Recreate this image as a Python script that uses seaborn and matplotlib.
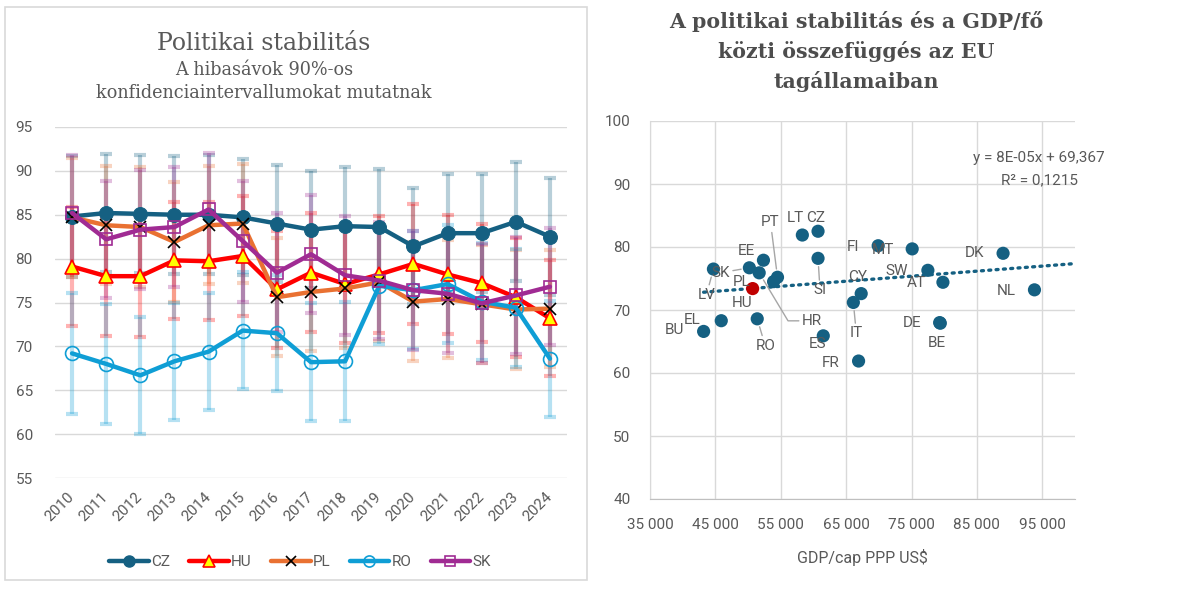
import numpy as np
import pandas as pd
import matplotlib
matplotlib.use("Agg")
import matplotlib.pyplot as plt
import seaborn as sns
from matplotlib.patches import Rectangle
from matplotlib.lines import Line2D

sns.set_style("white")
plt.rcParams['font.family'] = ['Roboto', 'DejaVu Sans']

GRAY = '#595959'
GRID = '#D9D9D9'

# --- left chart: political stability, 5 countries ---
years = list(range(2010, 2025))
cz = [84.8, 85.2, 85.1, 85.0, 85.0, 84.7, 84.0, 83.3, 83.7, 83.6, 81.4, 82.9, 82.9, 84.2, 82.5]
hu = [79.1, 78.0, 78.0, 79.8, 79.7, 80.3, 76.5, 78.4, 77.1, 78.2, 79.4, 78.2, 77.2, 75.6, 73.2]
pl = [84.7, 83.8, 83.6, 81.9, 83.8, 84.0, 75.6, 76.2, 76.6, 77.3, 75.1, 75.4, 74.8, 74.2, 74.3]
ro = [69.2, 68.0, 66.7, 68.3, 69.4, 71.8, 71.5, 68.2, 68.3, 76.9, 76.4, 77.1, 75.1, 74.4, 68.6]
sk = [85.2, 82.2, 83.3, 83.6, 85.6, 82.0, 78.4, 80.5, 78.1, 77.5, 76.4, 76.0, 74.9, 75.8, 76.8]

# 90% confidence half-widths
cz_err = [6.9, 6.7, 6.7, 6.7, 6.8, 6.6, 6.7, 6.7, 6.7, 6.6, 6.6, 6.7, 6.7, 6.8, 6.7]
hu_err = [6.8, 6.8, 6.9, 6.7, 6.7, 6.8, 6.7, 6.8, 6.7, 6.7, 6.8, 6.8, 6.7, 6.8, 6.6]
pl_err = [6.8, 6.7, 6.8, 6.8, 6.7, 6.8, 6.7, 6.7, 6.8, 6.7, 6.8, 6.7, 6.7, 6.8, 6.7]
ro_err = [6.9, 6.8, 6.7, 6.7, 6.7, 6.7, 6.6, 6.7, 6.8, 6.6, 6.7, 6.7, 6.7, 6.7, 6.6]
sk_err = [6.6, 6.7, 6.8, 6.8, 6.4, 6.9, 6.8, 6.7, 6.8, 6.7, 6.8, 6.7, 6.8, 6.7, 6.7]

# --- right chart: stability vs GDP/cap ---
countries = ['BU', 'EL', 'LV', 'SK', 'EE', 'PL', 'HU', 'PT', 'HR', 'RO', 'LT', 'CZ', 'SI',
             'ES', 'FR', 'IT', 'CY', 'FI', 'MT', 'SW', 'AT', 'DE', 'BE', 'DK', 'NL']
gdp = [43200, 45900, 44700, 50200, 52350, 53900, 50700, 54500, 51700, 51400, 58300, 60700, 60700,
       61500, 66900, 66100, 67300, 69900, 75100, 77500, 79800, 79300, 79400, 89000, 93800]
stab = [66.6, 68.3, 76.5, 76.7, 77.9, 74.5, 73.4, 75.2, 75.9, 68.6, 81.9, 82.5, 78.2,
        65.9, 61.9, 71.2, 72.6, 80.2, 79.7, 76.3, 74.4, 68.0, 67.9, 79.0, 73.2]
slope, intercept = 8e-05, 69.367

fig = plt.figure(figsize=(11.85, 5.9), dpi=100)
W, H = 1185, 590

def ax_rect(x0, y0, x1, y1):
    return [x0 / W, 1 - y1 / H, (x1 - x0) / W, (y1 - y0) / H]

# chart frame around left chart
fig.patches.append(Rectangle((5 / W, 1 - 580 / H), 582 / W, 573 / H, transform=fig.transFigure,
                             fill=False, edgecolor=GRID, lw=1.2))

ax = fig.add_axes(ax_rect(55, 127, 567, 478))

series = [
    ('CZ', cz, cz_err, '#156082', dict(marker='o', markersize=10, markerfacecolor='#156082', markeredgecolor='#156082')),
    ('HU', hu, hu_err, '#FF0000', dict(marker='^', markersize=10, markerfacecolor='#FFFF00', markeredgecolor='#FF0000', markeredgewidth=1.2)),
    ('PL', pl, pl_err, '#E97132', dict(marker='x', markersize=9, markeredgecolor='black', markeredgewidth=1.2)),
    ('RO', ro, ro_err, '#0F9ED5', dict(marker='o', markersize=10, markerfacecolor='none', markeredgecolor='#0F9ED5', markeredgewidth=1.2)),
    ('SK', sk, sk_err, '#A02B93', dict(marker='s', markersize=9, markerfacecolor='none', markeredgecolor='#A02B93', markeredgewidth=1.2)),
]

for name, vals, err, col, mk in series:
    ax.errorbar(years, vals, yerr=err, fmt='none', ecolor=col, alpha=0.3, elinewidth=3,
                capsize=4, capthick=3, zorder=1)

handles = []
for name, vals, err, col, mk in series:
    sns.lineplot(x=years, y=vals, ax=ax, color=col, lw=3.2, zorder=3, **mk)
    handles.append(Line2D([], [], color=col, lw=3.2, **mk))

ax.set_xlim(2009.5, 2024.5)
ax.set_ylim(55, 95)
ax.set_yticks(range(55, 96, 5))
ax.set_xticks(years)
ax.set_xticklabels([str(y) for y in years], rotation=45, ha='right', va='center', rotation_mode='anchor')
ax.tick_params(axis='x', length=0, pad=12, labelsize=11, labelcolor=GRAY)
ax.tick_params(axis='y', length=0, pad=16, labelsize=11, labelcolor=GRAY)
ax.grid(axis='y', color=GRID, lw=1)
ax.set_xlabel('')
ax.set_ylabel('')
sns.despine(ax=ax, left=True, bottom=True)

fig.text(264 / W, 1 - 43 / H, 'Politikai stabilitás', ha='center', va='center',
         family='DejaVu Serif', fontsize=17, color=GRAY)
fig.text(264 / W, 1 - 70 / H, 'A hibasávok 90%-os', ha='center', va='center',
         family='DejaVu Serif', fontsize=12.7, color=GRAY)
fig.text(264 / W, 1 - 93 / H, 'konfidenciaintervallumokat mutatnak', ha='center', va='center',
         family='DejaVu Serif', fontsize=12.7, color=GRAY)

fig.legend(handles, ['CZ', 'HU', 'PL', 'RO', 'SK'], loc='center', bbox_to_anchor=(300 / W, 1 - 562 / H),
           ncol=5, frameon=False, handlelength=2.6, columnspacing=1.25, handletextpad=0.15,
           markerscale=0.8, prop={'size': 11}, labelcolor=GRAY)

# --- right chart ---
ax2 = fig.add_axes(ax_rect(650, 121, 1075, 499))
grp = ['HU' if c == 'HU' else 'EU' for c in countries]
df = pd.DataFrame({'gdp': gdp, 'stab': stab, 'grp': grp})
sns.scatterplot(data=df, x='gdp', y='stab', hue='grp', palette={'EU': '#156082', 'HU': '#C00000'},
                s=90, edgecolor='none', legend=False, ax=ax2, zorder=3)

x_tr = np.array([min(gdp), 100000])
sns.lineplot(x=x_tr, y=slope * x_tr + intercept, ax=ax2, color='#156082', lw=2.4,
             linestyle=(0, (0.6, 1.6)), dash_capstyle='round', zorder=2)

offsets = {
    'BU': (-29, 1), 'EL': (-29, 1), 'LV': (-7, -26), 'SK': (-29, -5), 'EE': (-17, 9),
    'PL': (-32, 0), 'HU': (-11, -14), 'PT': (-7, 55), 'HR': (53, -48), 'RO': (8, -27),
    'LT': (-7, 17), 'CZ': (-2, 13), 'SI': (2, -32), 'ES': (-6, -8), 'FR': (-28, -2),
    'IT': (3, -31), 'CY': (-4, 17), 'FI': (-25, -1), 'MT': (-29, -1), 'SW': (-31, -1),
    'AT': (-27, -1), 'DE': (-28, 0), 'BE': (-3, -20), 'DK': (-29, 0), 'NL': (-28, -1),
}
leaders = {'LV', 'SK', 'PT', 'HR', 'RO', 'SI', 'IT'}
for c, xv, yv in zip(countries, gdp, stab):
    ap = None
    if c in leaders:
        ap = dict(arrowstyle='-', color='#A6A6A6', lw=1, shrinkA=0, shrinkB=6)
        if c == 'HR':
            ap['connectionstyle'] = 'angle,angleA=0,angleB=-59,rad=0'
    ax2.annotate(c, xy=(xv, yv), xytext=offsets[c], textcoords='offset pixels',
                 ha='center', va='center', fontsize=11, color=GRAY, arrowprops=ap, zorder=4)

ax2.text(0.915, 0.902, 'y = 8E-05x + 69,367', transform=ax2.transAxes, ha='center', va='center',
         fontsize=11, color=GRAY)
ax2.text(0.917, 0.843, 'R² = 0,1215', transform=ax2.transAxes, ha='center', va='center',
         fontsize=11, color=GRAY)

ax2.set_xlim(35000, 100000)
ax2.set_ylim(40, 100)
ax2.set_xticks(range(35000, 100000, 10000))
ax2.set_xticklabels([f'{v:,}'.replace(',', ' ') for v in range(35000, 100000, 10000)])
ax2.set_yticks(range(40, 101, 10))
ax2.tick_params(length=0, labelsize=11, labelcolor=GRAY)
ax2.tick_params(axis='y', pad=14)
ax2.tick_params(axis='x', pad=14)
ax2.grid(True, color=GRID, lw=1)
for s in ax2.spines.values():
    s.set_visible(False)
ax2.spines['left'].set_visible(True)
ax2.spines['bottom'].set_visible(True)
ax2.spines['left'].set_color(GRID)
ax2.spines['bottom'].set_color('#BFBFBF')
ax2.set_xlabel('GDP/cap PPP US$', fontsize=11.5, color=GRAY, labelpad=12)
ax2.set_ylabel('')

for i, line in enumerate(['A politikai stabilitás és a GDP/fő', 'közti összefüggés az EU', 'tagállamaiban']):
    fig.text(856 / W, 1 - (22 + 30 * i) / H, line, ha='center', va='center', family='DejaVu Serif',
             fontweight='bold', fontsize=14.8, color='#4D4D4D')

fig.savefig('out.png', dpi=100)
